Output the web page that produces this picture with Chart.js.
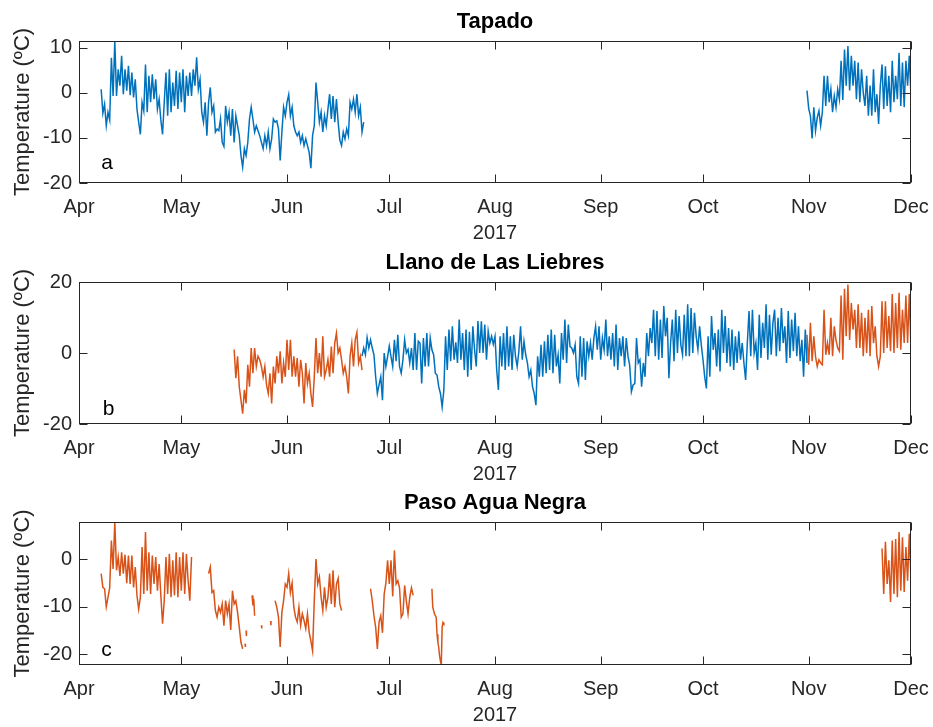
<!DOCTYPE html>
<html><head><meta charset="utf-8">
<script src="https://cdn.jsdelivr.net/npm/chart.js@4.4.1/dist/chart.umd.min.js"></script>
<style>
html,body{margin:0;padding:0;background:#fff;width:933px;height:727px;overflow:hidden}
canvas{position:absolute;left:0}
</style></head><body>
<canvas id="c1" width="933" height="245" style="top:0px"></canvas>
<canvas id="c2" width="933" height="245" style="top:241px"></canvas>
<canvas id="c3" width="933" height="246" style="top:481px"></canvas>
<script>
// x = days since 1 Apr 2017; series sampled every half day from the given start day
const MONTH_DAYS = [0,30,61,91,122,153,183,214,244];
const MONTH_LABELS = ['Apr','May','Jun','Jul','Aug','Sep','Oct','Nov','Dec'];
const YEAR_LABEL = '2017';
const TITLES = ['Tapado','Llano de Las Liebres','Paso Agua Negra'];
const Y_LABEL = 'Temperature (ºC)';
const Y_TICKS_1 = [-20,-10,0,10];
const Y_TICKS_2 = [-20,0,20];
const Y_TICKS_3 = [-20,-10,0];

// Tapado (blue)
const TAPADO_A_START = 6.5;
const TAPADO_A = [0.8,-4.5,-2.5,-7.3,-4.3,-6.0,7.8,-0.7,11.5,-0.7,5.2,1.6,8.2,-0.3,5.2,0.5,6.0,-0.5,4.5,-1.0,
 3.0,-3.6,-6.5,-9.2,-2.1,-4.0,6.3,-4.3,3.8,-2.1,4.1,-1.4,3.0,-3.6,-1.4,-6.0,-9.2,-2.1,4.5,-5.1,
 5.2,-4.3,2.3,-2.9,4.9,-3.6,4.5,-2.1,5.2,-4.3,3.8,-0.7,4.5,-0.7,5.2,1.6,7.9,0.8,3.0,-4.3,
 -6.5,-2.1,-9.5,-2.1,1.2,-4.3,-2.9,-8.7,-8.0,-8.4,-5.8,-11.0,-11.9,-2.9,-6.5,-4.3,-9.5,-3.6,-11.0,-5.1,
 -7.3,-9.5,-13.9,-16.5,-12.4,-13.9,-11.0,-5.8,-3.2,-5.8,-8.7,-7.3,-8.4,-9.5,-11.0,-12.4,-9.5,-11.7,-8.7,-12.4,
 -10.2,-5.8,-6.5,-6.2,-8.0,-15.0,-8.7,-3.2,-5.1,-2.1,-0.4,-5.1,-3.2,-7.3,-8.7,-9.5,-8.7,-11.0,-9.5,-11.7,
 -10.2,-11.7,-13.2,-16.7,-9.5,-7.3,2.3,-2.1,-6.5,-4.3,-8.7,-5.1,-7.3,-3.6,-0.3,-5.8,-0.7,-6.5,-1.4,-6.5,
 -10.5,-11.7,-8.7,-10.2,-8.0,-9.5,-2.1,-3.6,-1.4,-4.3,-0.3,-5.1,-3.2,-8.7,-6.5];
const TAPADO_B_START = 213.5;
const TAPADO_B = [0.5,-3.5,-5.1,-10.1,-3.2,-8.4,-5.5,-4.0,-7.3,-4.3,3.8,-2.9,3.8,-2.1,0.8,-4.3,-0.7,-3.2,0.8,-1.4,
 7.1,-1.6,9.6,1.6,10.4,0.5,8.2,1.6,7.1,-1.4,6.7,-2.1,5.2,0.0,-2.9,3.8,-5.1,1.6,-5.1,5.2,
 -4.3,-0.3,-6.9,1.6,6.3,-3.6,5.9,-2.9,3.8,-4.3,7.1,-2.1,3.8,-1.4,8.9,-2.9,6.7,-3.2,7.1,1.6,8.2,-0.7];

// Llano de Las Liebres (orange / blue / orange)
const LLANO_A_START = 45.5;
const LLANO_A = [1.0,-7.1,-0.9,-9.5,-13.3,-17.1,-10.4,-14.2,-3.3,-9.5,1.4,-5.7,1.4,-3.8,-0.9,-1.9,-3.8,-6.7,-3.8,-9.0,
 -11.4,-5.7,-14.2,-3.8,-8.6,-0.9,-5.7,0.5,-8.6,-2.8,-6.7,3.7,-4.8,3.7,-6.7,-0.9,-6.7,-1.4,-9.5,-1.9,
 -5.7,-14.2,-2.8,-8.6,-5.7,-11.4,-15.2,-6.7,4.2,-5.7,0.0,-6.7,4.7,-6.7,-4.8,-1.9,-6.7,1.8,-5.7,2.8,
 5.6,0.0,1.4,-1.9,-5.7,-3.8,-6.7,-11.4,-0.9,2.8,-3.8,3.7,5.8,-2.8,-0.9,-4.8];
const LLANO_B_START = 83;
const LLANO_B = [-0.9,1.4,-0.5,4.3,1.4,3.7,1.4,-0.5,-6.7,-11.4,-9.0,-6.7,-13.3,0.0,-3.8,-1.0,2.0,-1.0,-3.8,3.7,
 -2.3,5.1,-3.8,-5.7,-1.9,3.7,0.0,1.0,-2.8,1.4,-4.8,5.6,-4.8,3.3,2.8,-8.6,4.2,-3.8,5.6,-3.8,
 4.2,0.9,-0.5,-5.7,-6.2,-9.5,-11.4,-15.2,-10.4,4.7,-4.8,6.6,-2.3,7.5,-1.9,3.0,-2.8,9.4,-1.9,5.6,
 -4.8,6.6,-6.7,6.0,-4.8,7.5,1.0,-3.8,9.0,0.0,8.9,0.0,8.0,-1.9,6.1,2.8,4.7,2.5,4.7,-4.8,
 -10.4,4.7,-3.8,5.6,-4.8,7.5,-3.8,4.7,-4.8,5.1,-0.9,-3.8,0.5,7.5,-1.9,3.3,-0.5,-2.8,-6.7,-4.8,
 -9.5,-11.4,-14.7,-0.9,-6.7,2.3,-6.7,3.3,-5.7,5.1,-4.8,6.6,-5.7,5.1,-3.8,-0.5,-8.6,5.6,-1.9,9.4,
 -2.8,8.0,1.8,1.4,0.0,2.3,-6.7,-8.6,4.7,-6.7,4.2,-7.6,3.3,-0.9,2.8,-1.9,4.2,7.5,0.9,7.5,
 -1.9,4.2,0.9,9.4,-0.9,4.7,-1.9,5.6,-3.8,8.0,-4.8,4.2,-0.9,4.7,-3.8,4.2,-0.9,-3.5,-10.9,-9.0,
 -8.6,4.2,-2.8,-1.9,-9.5,-2.8,-6.7,5.6,-0.9,7.0,2.8,12.2,-0.9,11.8,-1.9,9.4,-1.4,13.2,4.7,9.9,
 -7.1,2.8,9.4,-2.3,12.2,0.0,10.4,2.3,-0.5,10.8,-0.9,13.7,-0.9,12.7,0.0,11.3,4.7,1.0,7.5,2.3,
 -1.9,-6.7,-10.0,4.7,-6.7,10.4,0.9,5.6,-3.8,6.6,-5.2,12.2,0.0,10.4,-2.8,7.0,-3.8,6.6,-4.8,4.7,
 -2.8,6.1,-1.9,2.8,-2.8,-7.6,2.8,11.8,-0.9,12.2,0.0,2.8,-4.8,10.8,-1.4,8.5,1.4,13.7,-1.9,10.8,
 -0.5,8.5,12.2,-0.9,9.9,0.5,12.7,2.8,7.5,-2.8,11.8,-1.4,9.4,0.5,11.3,-0.9,7.5,-2.3,3.7,-6.7,
 6.6,-2.8];
const LLANO_C_START = 213.5;
const LLANO_C = [5.1,-3.3,8.5,-2.3,4.7,-1.0,-3.8,-1.9,-2.8,-3.3,12.2,-0.5,2.8,-0.5,9.9,-0.9,7.5,3.7,1.4,0.5,
 16.2,-1.9,18.1,4.7,19.3,3.7,14.1,6.6,12.2,1.4,13.7,1.4,11.3,-0.9,9.9,0.0,12.2,-0.9,13.2,2.8,
 7.5,-0.9,-3.8,-0.9,14.6,0.0,14.6,1.4,10.4,0.5,16.6,0.0,14.1,1.4,17.0,0.9,12.2,2.8,16.2,2.8,16.6,0.9];

// Paso Agua Negra (orange), several broken records
const PASO_A_START = 6.5;
const PASO_A = [-3.0,-5.9,-6.2,-10.0,-8.0,-6.0,4.0,-2.0,7.9,-2.3,0.5,-3.5,1.5,-3.0,1.0,-5.0,0.8,-5.2,0.8,-5.9,
 -1.6,-7.6,-10.5,-8.0,2.6,-7.3,5.8,-6.6,1.5,-7.3,0.8,-5.2,0.5,-6.6,-1.0,-7.6,-13.6,-8.7,0.5,-7.3,
 1.2,-8.0,-0.2,-7.6,1.5,-8.0,0.5,-6.6,1.5,-7.3,1.2,-4.5,-8.7,0.5];
const PASO_B_START = 38;
const PASO_B = [-3.0,-1.6,-7.0,-6.6,-10.8,-12.2,-10.1,-11.2,-9.4,-14.0,-8.7,-11.5,-9.4,-14.9,-6.6,-9.4,-8.7,-11.2,-14.3,-17.5,-18.9];
const PASO_BITS_START = [48.7, 49.0, 53.5, 56.2];
const PASO_BITS = [[-17.8,-18.5],[-15.0,-16.2],[-13.9,-14.6],[-13.0,-13.9]];
const PASO_C_START = 50.75; // quarter-day samples
const PASO_C = [-7.6,-9.7,-8.3,-11.9];
const PASO_D_START = 57.5;
const PASO_D = [-8.7,-10.1,-12.2,-18.5,-11.2,-8.7,-5.2,-5.9,-3.0,-7.0,-5.0,-10.1,-12.2,-13.2,-10.1,-13.9,-11.5,-12.9,-14.6,-11.5,
 -15.4,-17.2,-19.3,-8.7,0.1,-5.2,-3.7,-8.0,-10.8,-5.9,-10.1,-8.0,-3.0,-9.4,-2.3,-10.1,-5.2,-4.0,-9.4,-10.8];
const PASO_E_START = 85.5;
const PASO_E = [-6.2,-8.7,-11.9,-14.3,-18.9,-13.2,-11.9,-15.5,-7.3,-5.0,-0.2,-5.2,-0.2,-7.8,1.9,-5.2,-4.5,-6.0,-12.2,-11.5,
 -5.5,-8.8,-11.5,-8.0,-6.0,-7.6];
const PASO_F_START = 103.5; // quarter-day samples
const PASO_F = [-6.2,-10.1,-10.8,-11.5,-11.9,-12.2,-15.8,-17.5,-18.6,-20.4,-21.5,-22.3,-14.3,-13.3,-13.6];
const PASO_G_START = 235.5;
const PASO_G = [2.3,-7.3,3.7,-5.2,-0.2,-9.0,4.0,-7.3,4.3,-8.0,5.8,-6.6,4.7,-6.9,2.6,-4.5,5.4,-4.5];

const BLUE = '#0072BD', ORANGE = '#D95319', AXIS = '#262626';
const FONT = '"Liberation Sans", Arial, Helvetica, sans-serif';
Chart.defaults.font.family = FONT;

function seg(start, step, values){ return values.map((v,i)=>({x:start+i*step, y:v})); }
function join(...segs){
  const out=[];
  segs.forEach((s,k)=>{ if(k>0) out.push({x:s[0].x-0.001, y:null}); out.push(...s); });
  return out;
}

const framePlugin = {
  id:'frame',
  afterDatasetsDraw(chart, args, o){
    const {ctx, chartArea:{left,right,top,bottom}, scales:{x,y}} = chart;
    ctx.save();
    ctx.strokeStyle=AXIS; ctx.lineWidth=1;
    const L=Math.round(left)+0.5, R=Math.round(right)-0.5, T=Math.round(top)+0.5, B=Math.round(bottom)-0.5;
    ctx.strokeRect(L,T,R-L,B-T);
    ctx.beginPath();
    MONTH_DAYS.forEach(d=>{
      const px=Math.round(x.getPixelForValue(d))+0.5;
      ctx.moveTo(px,B); ctx.lineTo(px,B-8);
      ctx.moveTo(px,T); ctx.lineTo(px,T+8);
    });
    o.yTicks.forEach(v=>{
      const py=Math.round(y.getPixelForValue(v))+0.5;
      ctx.moveTo(L,py); ctx.lineTo(L+8,py);
      ctx.moveTo(R,py); ctx.lineTo(R-8,py);
    });
    ctx.stroke();
    ctx.fillStyle='#000';
    ctx.font='bold 22px '+FONT; ctx.textAlign='center'; ctx.textBaseline='middle';
    ctx.fillText(o.title,(left+right)/2, top-19);
    ctx.font='21px '+FONT; ctx.textAlign='left'; ctx.textBaseline='alphabetic';
    ctx.fillText(o.letter, x.getPixelForValue(o.letterX), y.getPixelForValue(o.letterY));
    ctx.restore();
  }
};

function makeChart(id, cfg){
  return new Chart(document.getElementById(id), {
    type:'line',
    data:{datasets: cfg.datasets.map(d=>({data:d.data, borderColor:d.color, backgroundColor:d.color,
      borderWidth:1.5, pointRadius:0, tension:0, spanGaps:false, fill:false}))},
    options:{
      responsive:false, animation:false,
      layout:{padding:{top:41,right:22,bottom:0,left:0}},
      plugins:{legend:{display:false}, tooltip:{enabled:false}, title:{display:false},
        frame:{title:cfg.title, letter:cfg.letter, letterX:cfg.letterX, letterY:cfg.letterY, yTicks:cfg.yTicks}},
      scales:{
        x:{type:'linear', min:0, max:244,
          afterBuildTicks:s=>{ s.ticks = MONTH_DAYS.map(v=>({value:v})); },
          afterFit:s=>{ s.height=62; s.paddingLeft=0; s.paddingRight=0; },
          grid:{display:false, drawTicks:false}, border:{display:false},
          ticks:{autoSkip:false, maxRotation:0, padding:12, color:AXIS, font:{size:20},
            callback:(v,i)=>MONTH_LABELS[i]},
          title:{display:true, text:YEAR_LABEL, color:AXIS, font:{size:20}, padding:{top:0,bottom:0}}},
        y:{type:'linear', min:cfg.yMin, max:cfg.yMax,
          afterBuildTicks:s=>{ s.ticks = cfg.yTicks.map(v=>({value:v})); },
          afterFit:s=>{ s.width=79; s.paddingTop=0; s.paddingBottom=0; },
          grid:{display:false, drawTicks:false}, border:{display:false},
          ticks:{padding:7, color:AXIS, font:{size:20}},
          title:{display:true, text:Y_LABEL, color:AXIS, font:{size:22}, padding:{top:10,bottom:0}}}
      }
    },
    plugins:[framePlugin]
  });
}

makeChart('c1', {title:TITLES[0], letter:'a', letterX:6.5, letterY:-17, yMin:-20, yMax:11.5, yTicks:Y_TICKS_1,
  datasets:[{color:BLUE, data: join(seg(TAPADO_A_START,0.5,TAPADO_A), seg(TAPADO_B_START,0.5,TAPADO_B))}]});

makeChart('c2', {title:TITLES[1], letter:'b', letterX:7, letterY:-17.4, yMin:-20, yMax:20, yTicks:Y_TICKS_2,
  datasets:[
    {color:BLUE, data: seg(LLANO_B_START,0.5,LLANO_B)},
    {color:ORANGE, data: join(seg(LLANO_A_START,0.5,LLANO_A), seg(LLANO_C_START,0.5,LLANO_C))}
  ]});

makeChart('c3', {title:TITLES[2], letter:'c', letterX:6.5, letterY:-20.3, yMin:-22.3, yMax:7.9, yTicks:Y_TICKS_3,
  datasets:[{color:ORANGE, data: join(
    seg(PASO_A_START,0.5,PASO_A),
    seg(PASO_B_START,0.5,PASO_B),
    seg(PASO_BITS_START[0],0.1,PASO_BITS[0]),
    seg(PASO_BITS_START[1],0.1,PASO_BITS[1]),
    seg(PASO_C_START,0.25,PASO_C),
    seg(PASO_BITS_START[2],0.1,PASO_BITS[2]),
    seg(PASO_BITS_START[3],0.1,PASO_BITS[3]),
    seg(PASO_D_START,0.5,PASO_D),
    seg(PASO_E_START,0.5,PASO_E),
    seg(PASO_F_START,0.25,PASO_F),
    seg(PASO_G_START,0.5,PASO_G)
  )}]});
</script>
</body></html>
